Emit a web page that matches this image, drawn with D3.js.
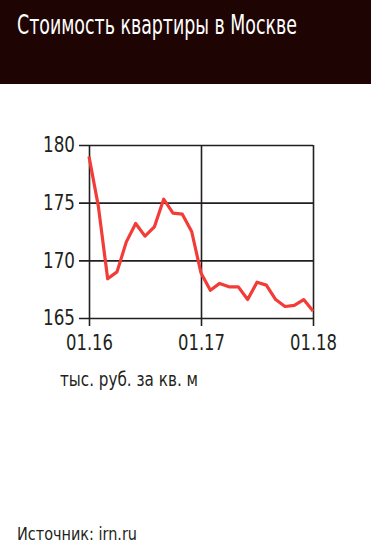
<!DOCTYPE html>
<html>
<head>
<meta charset="utf-8">
<script src="https://cdn.jsdelivr.net/npm/d3@7"></script>
<style>
  body { margin: 0; background: #fff; }
  svg { display: block; }
  text { font-family: "DejaVu Sans Condensed", "Liberation Sans Narrow", sans-serif; }
</style>
</head>
<body>
<div id="chart"></div>
<script>
// == Data ====================================================================

const title = 'Стоимость квартиры в Москве'
const unitLabel = 'тыс. руб. за кв. м'
const sourceLabel = 'Источник: irn.ru'

// monthly, 01.2016 .. 01.2018
const prices = [
  179.0, 174.7, 168.4, 169.0, 171.6, 173.2, 172.1, 172.9, 175.3, 174.1,
  174.0, 172.5, 168.9, 167.4, 168.0, 167.7, 167.7, 166.6, 168.1, 167.85,
  166.6, 166.0, 166.1, 166.6, 165.6
]
const yTicks = [165, 170, 175, 180]
const xTicks = [0, 12, 24]
const xTickLabels = ['01.16', '01.17', '01.18']

// == Layout ==================================================================

const W = 371
const H = 552
const headerH = 84
const plotL = 89, plotR = 313, plotT = 145, plotB = 318

const svg = d3.select('#chart').append('svg')
  .attr('width', W)
  .attr('height', H)

svg.append('rect')
  .attr('width', W)
  .attr('height', headerH)
  .attr('fill', '#1e0504')

// squeeze text to the narrow widths of the original typeface
function narrow (sel, w) {
  sel.attr('textLength', w).attr('lengthAdjust', 'spacingAndGlyphs')
}

// title: a bit taller than wide, like the condensed face of the original
svg.append('g')
  .attr('transform', 'translate(17,34) scale(1,1.13)')
  .append('text')
  .attr('fill', '#fff')
  .attr('font-size', 23)
  .text(title)
  .call(narrow, 280)

const x = d3.scaleLinear().domain([0, prices.length - 1]).range([plotL, plotR])
const y = d3.scaleLinear().domain([165, 180]).range([plotB, plotT])

const ink = '#231f20'

// horizontal grid + left ticks
const yAxis = d3.axisLeft(y)
  .tickValues(yTicks)
  .tickSize(-(plotR - plotL))
  .tickSizeOuter(0)
const gy = svg.append('g')
  .attr('transform', `translate(${plotL},0)`)
  .call(yAxis)
gy.select('.domain').remove()
gy.selectAll('.tick line')
  .attr('x1', -10)
  .attr('stroke', ink)
  .attr('stroke-width', 1.6)
gy.selectAll('.tick text')
  .attr('fill', ink)
  .attr('font-size', 21)
  .attr('x', -14)
  .call(narrow, 32)

// vertical lines + bottom ticks
const xAxis = d3.axisBottom(x)
  .tickValues(xTicks)
  .tickFormat((d, i) => xTickLabels[i])
  .tickSize(-(plotB - plotT))
  .tickSizeOuter(0)
const gx = svg.append('g')
  .attr('transform', `translate(0,${plotB})`)
  .call(xAxis)
gx.select('.domain').remove()
gx.selectAll('.tick line')
  .attr('y1', 8)
  .attr('stroke', ink)
  .attr('stroke-width', 1.6)
gx.selectAll('.tick text')
  .attr('fill', ink)
  .attr('font-size', 21)
  .attr('y', 17)
  .call(narrow, 47)

// price line
const line = d3.line()
  .x((d, i) => x(i))
  .y(d => y(d))

svg.append('path')
  .attr('d', line(prices))
  .attr('fill', 'none')
  .attr('stroke', '#f23c37')
  .attr('stroke-width', 3.2)
  .attr('stroke-linejoin', 'round')

svg.append('text')
  .attr('x', 60)
  .attr('y', 386)
  .attr('fill', ink)
  .attr('font-size', 19)
  .text(unitLabel)
  .call(narrow, 138)

svg.append('text')
  .attr('x', 17)
  .attr('y', 540)
  .attr('fill', ink)
  .attr('font-size', 18)
  .text(sourceLabel)
  .call(narrow, 120)
</script>
</body>
</html>
